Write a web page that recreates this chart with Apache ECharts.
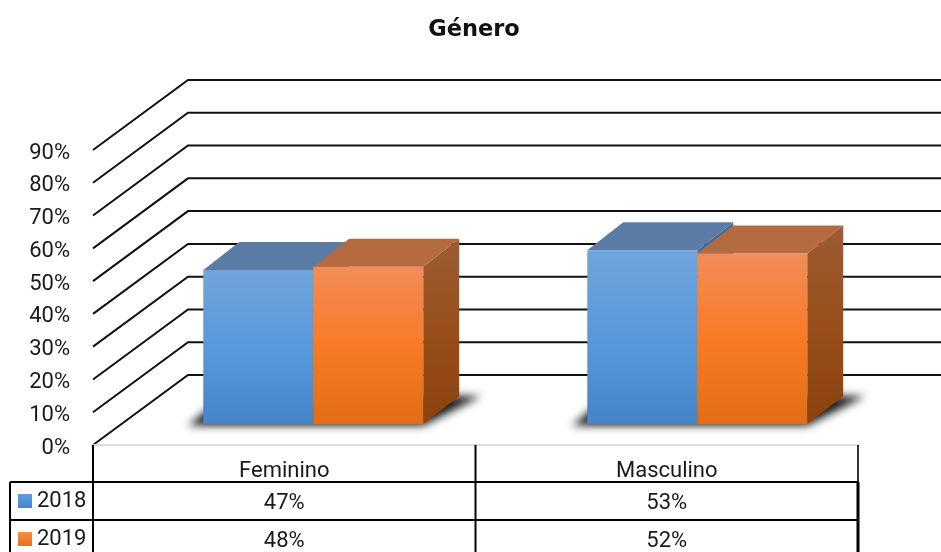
<!DOCTYPE html>
<html>
<head>
<meta charset="utf-8">
<style>html,body{margin:0;padding:0;background:#fff}#chart{width:941px;height:552px}</style>
<script src="https://cdn.jsdelivr.net/npm/echarts@6/dist/echarts.min.js"></script>
</head>
<body>
<div id="chart"></div>
<script>
// Gender split per year, drawn as an oblique 3D column chart with a data table below.
const categories = ['Feminino', 'Masculino'];
const years = ['2018', '2019'];
const values2018 = [47, 53];
const values2019 = [48, 52];
const valueTicks = [0, 10, 20, 30, 40, 50, 60, 70, 80, 90];

const FONT = 'Roboto';
const LABEL_SIZE = 22;
const WALL_DX = 95, WALL_DY = -70;     // front plane to back wall
const PLANE_DX = 28, PLANE_DY = -21;   // front plane to the plane holding the columns
const BOX_DX = 36, BOX_DY = -28;       // column depth
const BAR_SHARE = 0.2875;              // column width as a share of the category band
const CATEGORY_DRIFT = 1.5;            // perspective drift of later categories
const ROW_TOP = [482, 520];            // data table rows
const TABLE_LEFT = 10, TABLE_BOTTOM = 552, LABEL_ROW_TOP = 445;
const OFFSCREEN = 3000;                // shadow casters sit outside the canvas

function vGrad(stops) {
  return { type: 'linear', x: 0, y: 0, x2: 0, y2: 1,
    colorStops: stops.map((c, i) => ({ offset: i / (stops.length - 1), color: c })) };
}
const palette = {
  '2018': { front: vGrad(['#70a4dd', '#5799da', '#4585c7']), top: '#5a7ca5', side: vGrad(['#466f9c', '#3f6892']), key: vGrad(['#5f9fdf', '#4586c9']) },
  '2019': { front: vGrad(['#f28c58', '#f87a26', '#e36c17']), top: '#b56a40', side: vGrad(['#9c5c33', '#994f1b', '#8c420b']), key: vGrad(['#f5914f', '#e76f18']) }
};

function polygon(points, fill) {
  return { type: 'polygon', shape: { points }, style: { fill } };
}

// One cuboid per category; seriesOffset is -1 for the left column, 0 for the right one.
function boxSeries(name, values, seriesOffset) {
  const colors = palette[name];
  return {
    type: 'custom', name, z: 3 + seriesOffset + 1, clip: false,
    itemStyle: { color: colors.key },
    data: values.map((v, i) => [i, v]),
    encode: { x: 0, y: 1 },
    renderItem(params, api) {
      const cat = api.value(0), val = api.value(1);
      const w = api.size([1, 0])[0] * BAR_SHARE;
      const c = api.coord([cat, val]);
      const b = api.coord([cat, 0]);
      const x0 = c[0] + PLANE_DX + cat * CATEGORY_DRIFT + w * seriesOffset + 1, x1 = x0 + w;
      const yTop = c[1] + PLANE_DY, yBase = b[1] + PLANE_DY;
      return { type: 'group', children: [
        polygon([[x0, yTop], [x0 + BOX_DX, yTop + BOX_DY], [x1 + BOX_DX, yTop + BOX_DY], [x1, yTop]], colors.top),
        polygon([[x1, yTop], [x1 + BOX_DX, yTop + BOX_DY], [x1 + BOX_DX, yBase + BOX_DY], [x1, yBase]], colors.side),
        polygon([[x0, yTop], [x1, yTop], [x1, yBase], [x0, yBase]], colors.front)
      ]};
    }
  };
}

// Soft floor shadow under each pair of columns: only the blurred shadow of the caster is seen.
const shadowSeries = {
  type: 'custom', silent: true, z: 2, clip: false,
  data: categories.map((_, i) => [i, 0]),
  encode: { x: 0, y: 1 },
  renderItem(params, api) {
    const cat = api.value(0);
    const b = api.coord([cat, 0]);
    const w = api.size([1, 0])[0] * BAR_SHARE;
    const mid = b[0] + PLANE_DX + cat * CATEGORY_DRIFT + 1;
    const x0 = mid - w, x1 = mid + w, y = b[1] + PLANE_DY;
    const pts = [[x0 - 15, y + 1.5], [x1, y + 1.5], [x1 + BOX_DX + 22, y + BOX_DY],
      [x1 + BOX_DX - 8, y + BOX_DY], [x0 + 6, y - 16]];
    return { type: 'polygon', shape: { points: pts.map(p => [p[0] - OFFSCREEN, p[1]]) },
      style: { fill: '#000', shadowBlur: 8, shadowColor: 'rgba(25,25,25,1)', shadowOffsetX: OFFSCREEN } };
  }
};

// Side wall and back wall lines, one per value tick.
const wallSeries = {
  type: 'custom', silent: true, z: 1, clip: false,
  data: valueTicks.map(v => [0, v]),
  encode: { x: 0, y: 1 },
  renderItem(params, api) {
    const p = api.coord([0, api.value(1)]);
    const left = p[0] - api.size([1, 0])[0] / 2;
    return { type: 'polyline', shape: { points: [[left, p[1]], [left + WALL_DX, p[1] + WALL_DY], [params.coordSys.x + params.coordSys.width + 200, p[1] + WALL_DY]] },
      style: { stroke: '#111', lineWidth: 2, fill: null } };
  }
};

// Data table grid under the plot.
const tableSeries = {
  type: 'custom', silent: true, z: 1, clip: false,
  data: [[0, 0]],
  encode: { x: 0, y: 1 },
  renderItem(params, api) {
    const band = api.size([1, 0])[0];
    const left = api.coord([0, 0])[0] - band / 2;
    const right = left + band * categories.length;
    const line = (x1, y1, x2, y2, stroke, lineWidth) => ({ type: 'line', shape: { x1, y1, x2, y2 },
      style: { stroke: stroke || '#000', lineWidth: lineWidth || 2 } });
    const children = [line(left, LABEL_ROW_TOP, right + 2, LABEL_ROW_TOP, '#dcdcdc')];
    for (let i = 0; i < categories.length; i++) {
      children.push(line(left + band * i, LABEL_ROW_TOP, left + band * i, TABLE_BOTTOM));
    }
    children.push(line(right, LABEL_ROW_TOP, right, ROW_TOP[0], '#333'));
    children.push(line(right, ROW_TOP[0], right, TABLE_BOTTOM, '#000', 3));
    ROW_TOP.forEach(y => children.push(line(TABLE_LEFT, y, right, y)));
    children.push(line(TABLE_LEFT, ROW_TOP[0], TABLE_LEFT, TABLE_BOTTOM));
    return { type: 'group', children };
  }
};

// Percentages printed in the table rows.
function rowSeries(values, rowIndex) {
  return {
    type: 'custom', silent: true, z: 5, clip: false,
    data: values.map((v, i) => [i, v]),
    encode: { x: 0, y: 1 },
    renderItem(params, api) {
      const c = api.coord([api.value(0), 0]);
      return { type: 'text', style: { text: api.value(1) + '%', x: c[0], y: ROW_TOP[rowIndex] + 21,
        align: 'center', verticalAlign: 'middle', fill: '#1a1a1a', font: LABEL_SIZE + 'px "' + FONT + '"' } };
    }
  };
}

// Colour keys sit in the first column of each table row.
function legendFor(year, rowIndex) {
  return {
    orient: 'vertical', left: 18, top: ROW_TOP[rowIndex] + 8, padding: 0,
    itemWidth: 14, itemHeight: 14, data: [year], icon: 'rect', selectedMode: false,
    textStyle: { fontFamily: FONT, fontSize: LABEL_SIZE, color: '#1a1a1a' }
  };
}

const chart = echarts.init(document.getElementById('chart'), null, { renderer: 'canvas' });
chart.setOption({
  backgroundColor: '#fff',
  animation: false,
  title: {
    text: 'Género', left: 474, top: 19, textAlign: 'center', padding: 0,
    textStyle: { fontFamily: 'DejaVu Sans', fontWeight: 'bold', fontSize: 22.5, color: '#111' }
  },
  legend: years.map(legendFor),
  grid: { left: 93, right: 83, top: 150, bottom: 107 },
  xAxis: {
    type: 'category', data: categories,
    axisLine: { show: false }, axisTick: { show: false }, splitLine: { show: false },
    axisLabel: { margin: 15, fontFamily: FONT, fontSize: LABEL_SIZE, color: '#1a1a1a' }
  },
  yAxis: {
    type: 'value', min: 0, max: 90, interval: 10,
    axisLine: { show: false }, axisTick: { show: false }, splitLine: { show: false },
    axisLabel: {
      formatter: '{t|{value}%}', margin: 23, color: '#1a1a1a',
      rich: { t: { fontFamily: FONT, fontSize: LABEL_SIZE, color: '#1a1a1a', padding: [6, 0, 0, 0] } }
    }
  },
  series: [
    wallSeries, tableSeries, shadowSeries,
    boxSeries(years[0], values2018, -1),
    boxSeries(years[1], values2019, 0),
    rowSeries(values2018, 0), rowSeries(values2019, 1)
  ]
});
</script>
</body>
</html>
